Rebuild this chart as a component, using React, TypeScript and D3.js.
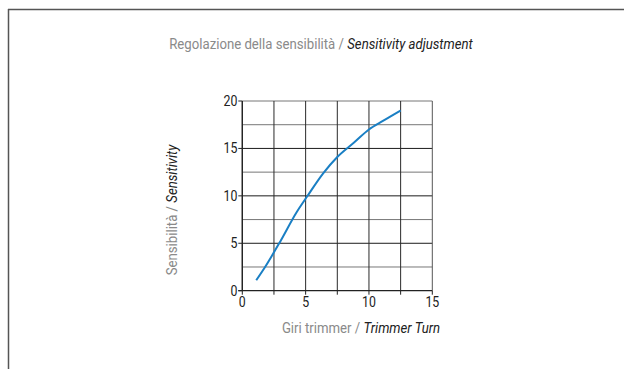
import React from "react";
import * as d3 from "d3";

const turns = [1.1, 1.8, 3.0, 4.3, 5.1, 6.4, 7.5, 8.8, 10.0, 11.1, 12.5];
const sensitivity = [1.1, 2.5, 5.2, 8.3, 9.9, 12.4, 14.1, 15.6, 17.0, 17.9, 19.0];
const xTicks = [0, 5, 10, 15];
const yTicks = [0, 5, 10, 15, 20];
const gridX = [0, 2.5, 5, 7.5, 10, 12.5, 15];
const gridY = [2.5, 5, 7.5, 10, 12.5, 15, 17.5, 20];

const FONT = "'Roboto', 'Liberation Sans', sans-serif";
const SX = 0.88;

export default function App() {
  const x = d3.scaleLinear().domain([0, 15]).range([242.3, 432.3]);
  const y = d3.scaleLinear().domain([0, 20]).range([290.7, 101]);
  const pts: [number, number][] = turns.map((t, i) => [t, sensitivity[i]]);
  const line = d3
    .line<[number, number]>()
    .x((d) => x(d[0]))
    .y((d) => y(d[1]))
    .curve(d3.curveMonotoneX);

  return (
    <svg
      width={624}
      height={369}
      style={{ position: "absolute", left: 0, top: 0, background: "#fff" }}
    >
      <line x1={8} x2={624} y1={9.5} y2={9.5} stroke="#555" strokeWidth={1.5} />
      <line x1={8.5} x2={8.5} y1={9} y2={369} stroke="#555" strokeWidth={1.5} />

      <text transform={`translate(321,49) scale(${SX},1)`} textAnchor="middle" fontFamily={FONT} fontSize={15}>
        <tspan fill="#8a8a8a">Regolazione della sensibilità / </tspan>
        <tspan fill="#222" fontStyle="italic">Sensitivity adjustment</tspan>
      </text>

      {gridY.map((v) => (
        <line
          key={"gy" + v}
          x1={x(0)}
          x2={x(15)}
          y1={y(v)}
          y2={y(v)}
          stroke={v % 5 === 0 && v !== 20 ? "#1a1a1a" : "#777"}
          strokeWidth={1}
        />
      ))}
      {gridX.map((v) => (
        <line
          key={"gx" + v}
          x1={x(v)}
          x2={x(v)}
          y1={y(0)}
          y2={y(20)}
          stroke={v === 15 ? "#555" : "#2a2a2a"}
          strokeWidth={1}
        />
      ))}
      {gridX.map((v) => (
        <line key={"tx" + v} x1={x(v)} x2={x(v)} y1={y(0)} y2={y(0) + 4} stroke="#222" strokeWidth={1} />
      ))}
      {yTicks.map((v) => (
        <line key={"ty" + v} x1={x(0) - 4} x2={x(0)} y1={y(v)} y2={y(v)} stroke="#222" strokeWidth={1} />
      ))}
      <line x1={x(0) - 4} x2={x(15)} y1={y(0)} y2={y(0)} stroke="#222" strokeWidth={1.3} />
      <line x1={x(0)} x2={x(0)} y1={y(0)} y2={y(20)} stroke="#222" strokeWidth={1.3} />

      {yTicks.map((v) => (
        <text
          key={"yl" + v}
          transform={`translate(${x(0) - 5},${y(v) + 5}) scale(${SX},1)`}
          textAnchor="end"
          fontFamily={FONT}
          fontSize={14}
          fill="#222"
        >
          {v}
        </text>
      ))}
      {xTicks.map((v) => (
        <text
          key={"xl" + v}
          transform={`translate(${x(v)},${y(0) + 16.5}) scale(${SX},1)`}
          textAnchor="middle"
          fontFamily={FONT}
          fontSize={14}
          fill="#222"
        >
          {v}
        </text>
      ))}

      <path d={line(pts) || ""} fill="none" stroke="#1a7fc4" strokeWidth={2} />

      <text transform={`translate(361,333) scale(${SX},1)`} textAnchor="middle" fontFamily={FONT} fontSize={15}>
        <tspan fill="#8a8a8a">Giri trimmer / </tspan>
        <tspan fill="#222" fontStyle="italic">Trimmer Turn</tspan>
      </text>
      <text
        transform={`translate(177,210) rotate(-90) scale(${SX},1)`}
        textAnchor="middle"
        fontFamily={FONT}
        fontSize={15}
      >
        <tspan fill="#8a8a8a">Sensibilità / </tspan>
        <tspan fill="#222" fontStyle="italic">Sensitivity</tspan>
      </text>
    </svg>
  );
}
